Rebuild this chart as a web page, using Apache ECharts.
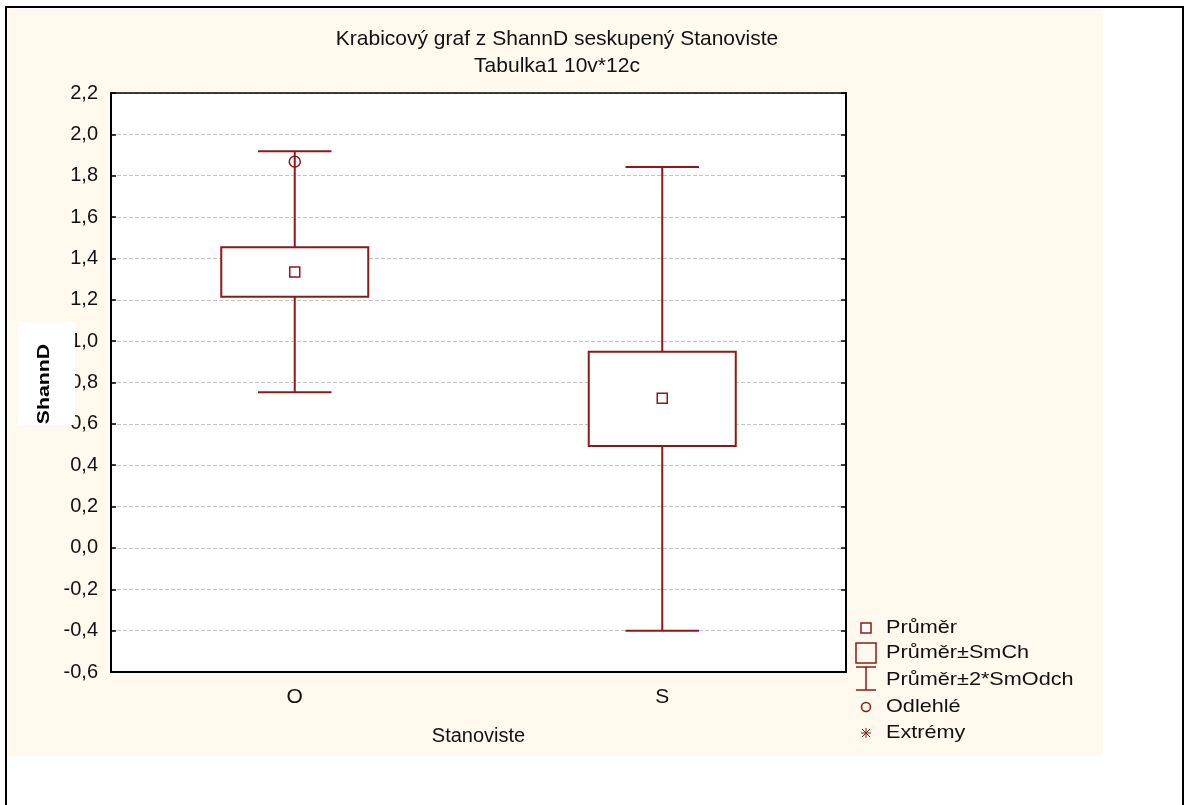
<!DOCTYPE html>
<html>
<head>
<meta charset="utf-8">
<script src="https://cdn.jsdelivr.net/npm/echarts@6/dist/echarts.min.js"></script>
<style>
html,body{margin:0;padding:0;background:#fff;}
#chart{width:1186px;height:805px;}
</style>
</head>
<body>
<div id="chart"></div>
<script>
// ---- data ----
var categories = ['O', 'S'];
var means      = [1.334, 0.724];
var seLow      = [1.215, 0.493];   // Průměr - SmCh
var seHigh     = [1.454, 0.949];   // Průměr + SmCh
var sdLow      = [0.753, -0.40];   // Průměr - 2*SmOdch
var sdHigh     = [1.918, 1.842];   // Průměr + 2*SmOdch
var outliers   = [['O', 1.868]];
var extremes   = [];
var yMin = -0.6, yMax = 2.2, yStep = 0.2;
var titleLines = ['Krabicový graf z ShannD seskupený Stanoviste', 'Tabulka1 10v*12c'];
var legendNames = ['Průměr', 'Průměr±SmCh', 'Průměr±2*SmOdch', 'Odlehlé', 'Extrémy'];

var RED = '#8c1a1a';
var FONT = '"Liberation Sans", Arial, sans-serif';

var boxData = categories.map(function (c, i) {
  return [i, sdLow[i], seLow[i], seHigh[i], sdHigh[i]];
});

function fmt(v) {
  var r = Math.round(v * 10) / 10;
  if (r === 0) r = 0;
  return r.toFixed(1).replace('.', ',');
}

var chart = echarts.init(document.getElementById('chart'), null, {renderer: 'canvas'});

// legend graphic
var lx = 866, lrows = [628, 653, 680, 707, 733];
var legendGraphics = [
  {type: 'rect', shape: {x: lx - 5, y: lrows[0] - 5, width: 10, height: 10}, style: {fill: '#fff', stroke: RED, lineWidth: 1.5}},
  {type: 'rect', shape: {x: lx - 10, y: lrows[1] - 10, width: 20, height: 20}, style: {fill: 'none', stroke: RED, lineWidth: 1.5}},
  {type: 'polyline', shape: {points: [[lx - 10, 667], [lx + 10, 667]]}, style: {stroke: RED, lineWidth: 1.5}},
  {type: 'polyline', shape: {points: [[lx, 667], [lx, 690]]}, style: {stroke: RED, lineWidth: 1.5}},
  {type: 'polyline', shape: {points: [[lx - 10, 690], [lx + 10, 690]]}, style: {stroke: RED, lineWidth: 1.5}},
  {type: 'circle', shape: {cx: lx, cy: lrows[3], r: 4.5}, style: {fill: 'none', stroke: RED, lineWidth: 1.5}},
  {type: 'polyline', shape: {points: [[lx - 5, lrows[4]], [lx + 5, lrows[4]]]}, style: {stroke: RED, lineWidth: 1}},
  {type: 'polyline', shape: {points: [[lx, lrows[4] - 5], [lx, lrows[4] + 5]]}, style: {stroke: RED, lineWidth: 1}},
  {type: 'polyline', shape: {points: [[lx - 4, lrows[4] - 4], [lx + 4, lrows[4] + 4]]}, style: {stroke: RED, lineWidth: 1}},
  {type: 'polyline', shape: {points: [[lx - 4, lrows[4] + 4], [lx + 4, lrows[4] - 4]]}, style: {stroke: RED, lineWidth: 1}}
];
legendNames.forEach(function (n, i) {
  legendGraphics.push({
    type: 'text', x: 886, y: lrows[i], scaleX: 1.14,
    style: {text: n, fill: '#111', font: '19px ' + FONT, textVerticalAlign: 'middle', textAlign: 'left'}
  });
});

var option = {
  backgroundColor: '#fff',
  animation: false,
  title: {
    text: titleLines.join('\n'),
    left: 557, top: 26, textAlign: 'center', padding: 0,
    textStyle: {fontFamily: FONT, fontSize: 21, fontWeight: 'normal', color: '#111', lineHeight: 27}
  },
  graphic: [
    {type: 'rect', z: -10, silent: true, shape: {x: 8, y: 9, width: 1095, height: 747}, style: {fill: '#fff9ee'}},
    {type: 'rect', z: -9, silent: true, shape: {x: 6, y: 7, width: 1177, height: 820}, style: {fill: 'none', stroke: '#000', lineWidth: 2}},
    {type: 'rect', z: 50, silent: true, shape: {x: 18, y: 322, width: 57, height: 103}, style: {fill: '#fff'}},
    {type: 'text', z: 51, silent: true, x: 44, y: 384, rotation: Math.PI / 2, scaleX: 1.25,
     style: {text: 'ShannD', fill: '#000', font: 'bold 17px ' + FONT, textAlign: 'center', textVerticalAlign: 'middle'}}
  ].concat(legendGraphics),
  grid: {left: 111, top: 93, right: 340, bottom: 133, show: true, backgroundColor: '#fff', borderWidth: 0},
  xAxis: [{
    type: 'category', data: categories, position: 'bottom',
    name: 'Stanoviste', nameLocation: 'middle', nameGap: 54,
    nameTextStyle: {fontFamily: FONT, fontSize: 20, color: '#111'},
    axisLine: {onZero: false, lineStyle: {color: '#000', width: 2}},
    axisTick: {inside: true, alignWithLabel: true, length: 5, lineStyle: {color: '#000', width: 1.5}},
    axisLabel: {fontFamily: FONT, fontSize: 21, color: '#111', margin: 15},
    splitLine: {show: false}
  }, {
    type: 'category', data: categories, position: 'top',
    axisLine: {onZero: false, lineStyle: {color: '#000', width: 1.5}},
    axisTick: {inside: true, alignWithLabel: true, length: 5, lineStyle: {color: '#000', width: 1.5}},
    axisLabel: {show: false}, splitLine: {show: false}
  }],
  yAxis: [{
    type: 'value', min: yMin, max: yMax, interval: yStep, position: 'left',
    axisLine: {show: true, onZero: false, lineStyle: {color: '#000', width: 2}},
    axisTick: {show: true, inside: true, length: 5, lineStyle: {color: '#000', width: 1.5}},
    axisLabel: {fontFamily: FONT, fontSize: 20, color: '#111', margin: 13, formatter: fmt},
    splitLine: {show: true, lineStyle: {color: '#c4c4c4', width: 1, type: [4, 2]}}
  }, {
    type: 'value', min: yMin, max: yMax, interval: yStep, position: 'right',
    axisLine: {show: true, onZero: false, lineStyle: {color: '#000', width: 2}},
    axisTick: {show: true, inside: true, length: 5, lineStyle: {color: '#000', width: 1.5}},
    axisLabel: {show: false}, splitLine: {show: false}
  }],
  series: [{
    type: 'custom', name: 'Průměr±SmCh', xAxisIndex: 0, yAxisIndex: 0,
    data: boxData,
    renderItem: function (params, api) {
      var idx = api.value(0);
      var x = api.coord([idx, 0])[0];
      var band = api.size([1, 0])[0];
      var yL = api.coord([idx, api.value(1)])[1];
      var yBL = api.coord([idx, api.value(2)])[1];
      var yBH = api.coord([idx, api.value(3)])[1];
      var yH = api.coord([idx, api.value(4)])[1];
      var bw = band * 0.2, cw = band * 0.1;
      var st = {stroke: RED, lineWidth: 2, fill: null};
      return {
        type: 'group',
        children: [
          {type: 'line', shape: {x1: x, y1: yL, x2: x, y2: yH}, style: st},
          {type: 'line', shape: {x1: x - cw, y1: yL, x2: x + cw, y2: yL}, style: st},
          {type: 'line', shape: {x1: x - cw, y1: yH, x2: x + cw, y2: yH}, style: st},
          {type: 'rect', shape: {x: x - bw, y: yBH, width: 2 * bw, height: yBL - yBH},
           style: {stroke: RED, lineWidth: 2, fill: '#fff'}}
        ]
      };
    },
    z: 3
  }, {
    type: 'scatter', name: 'Průměr', data: categories.map(function (c, i) { return [c, means[i]]; }),
    symbol: 'rect', symbolSize: 10,
    itemStyle: {color: '#fff', borderColor: RED, borderWidth: 1.5, opacity: 1},
    z: 5
  }, {
    type: 'scatter', name: 'Odlehlé', data: outliers,
    symbol: 'circle', symbolSize: 11,
    itemStyle: {color: 'rgba(0,0,0,0)', borderColor: RED, borderWidth: 1.5, opacity: 1},
    z: 5
  }, {
    type: 'scatter', name: 'Extrémy', data: extremes,
    symbol: 'path://M0,5L10,5M5,0L5,10M1.5,1.5L8.5,8.5M1.5,8.5L8.5,1.5', symbolSize: 9,
    itemStyle: {color: 'none', borderColor: RED, borderWidth: 1},
    z: 5
  }]
};
chart.setOption(option);
</script>
</body>
</html>
